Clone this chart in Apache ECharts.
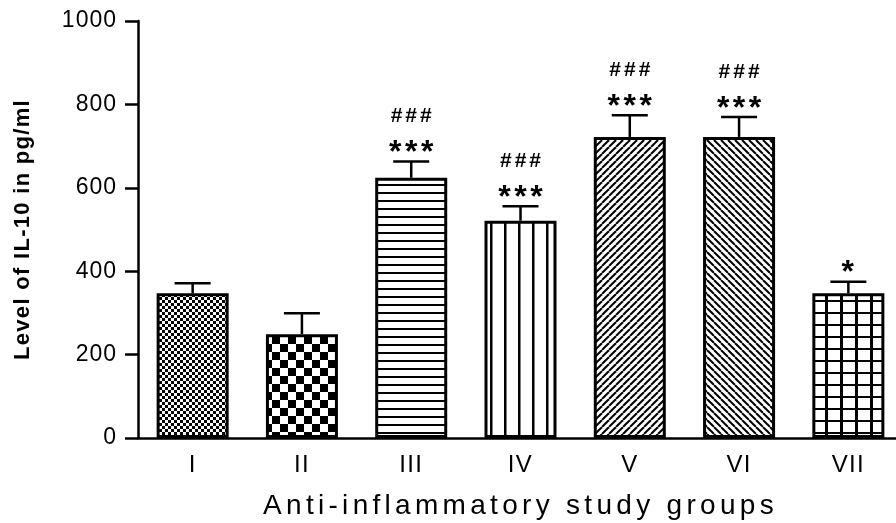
<!DOCTYPE html>
<html>
<head>
<meta charset="UTF-8">
<title>IL-10</title>
<script src="https://cdn.jsdelivr.net/npm/echarts@6/dist/echarts.min.js"></script>
<style>
    html, body { margin: 0; padding: 0; background: #fff; }
    #main { width: 896px; height: 523px; }
</style>
</head>
<body>
<div id="main"></div>
<script>
// data
var groups = ['I', 'II', 'III', 'IV', 'V', 'VI', 'VII'];
var levels = [347, 249, 624, 521, 722, 722, 347];   // bar height (mean)
var errTop = [371, 299, 663, 556, 774, 770, 375];   // top of the error bar
var stars  = ['', '', '***', '***', '***', '***', '*'];
var hashes = ['', '', '###', '###', '###', '###', ''];
var yMin = 0, yMax = 1000, yStep = 200;

var FONT = '"Liberation Sans", Arial, sans-serif';

// the original figure is stretched sideways, so text gets a bit of letter spacing
var spacing = {
    'Anti-inflammatory study groups': '4.3px',
    'Level of IL-10 in pg/ml': '1.3px',
    '***': '3.5px',
    '###': '3px'
};
var origFill = CanvasRenderingContext2D.prototype.fillText;
CanvasRenderingContext2D.prototype.fillText = function (t, x, y) {
    var ls = spacing[t] || (/^\d+$/.test(t) ? '1px' : null);
    if (ls && 'letterSpacing' in this) {
        var old = this.letterSpacing;
        this.letterSpacing = ls;
        origFill.call(this, t, x, y);
        this.letterSpacing = old;
    } else {
        origFill.apply(this, arguments);
    }
};

// black & white hatch patterns
function tile(w, h, draw) {
    var c = document.createElement('canvas');
    c.width = w; c.height = h;
    var ctx = c.getContext('2d');
    ctx.fillStyle = '#fff';
    ctx.fillRect(0, 0, w, h);
    ctx.fillStyle = '#000';
    ctx.strokeStyle = '#000';
    draw(ctx, w, h);
    return { image: c, repeat: 'repeat' };
}
function diag(up) {
    return tile(7, 7, function (ctx, w, h) {
        ctx.lineWidth = 2;
        for (var k = -1; k <= 1; k++) {
            ctx.beginPath();
            if (up) { ctx.moveTo(k * w, h); ctx.lineTo(k * w + w, 0); }
            else { ctx.moveTo(k * w, 0); ctx.lineTo(k * w + w, h); }
            ctx.stroke();
        }
    });
}
var patterns = [
    tile(6, 6, function (ctx) { ctx.fillRect(0, 0, 3, 3); ctx.fillRect(3, 3, 3, 3); }),
    tile(16, 16, function (ctx) { ctx.fillRect(0, 0, 8, 8); ctx.fillRect(8, 8, 8, 8); }),
    tile(4, 8, function (ctx) { ctx.fillRect(0, 0, 4, 2); }),
    tile(14, 4, function (ctx) { ctx.fillRect(0, 0, 2.5, 4); }),
    diag(true),
    diag(false),
    tile(15, 12, function (ctx) { ctx.fillRect(0, 0, 3, 12); ctx.fillRect(0, 0, 15, 2); })
];

var barData = levels.map(function (v, i) {
    return { value: v, itemStyle: { color: patterns[i] } };
});
var errData = groups.map(function (g, i) {
    return [i, levels[i], errTop[i], stars[i], hashes[i]];
});

var chart = echarts.init(document.getElementById('main'), null, { renderer: 'canvas' });

chart.setOption({
    animation: false,
    backgroundColor: '#fff',
    grid: { left: 138, top: 21, width: 765, height: 417, outerBoundsMode: 'none', containLabel: false },
    xAxis: {
        type: 'category',
        data: groups,
        axisLine: { lineStyle: { color: '#000', width: 2.5 } },
        axisTick: { alignWithLabel: true, length: 12, lineStyle: { color: '#000', width: 2.5 } },
        axisLabel: { color: '#000', fontSize: 24, fontFamily: FONT, margin: 15 },
        name: 'Anti-inflammatory study groups',
        nameLocation: 'middle',
        nameGap: 54,
        nameTextStyle: { color: '#000', fontSize: 28, fontFamily: FONT }
    },
    yAxis: {
        type: 'value',
        min: yMin, max: yMax, interval: yStep,
        splitLine: { show: false },
        axisLine: { show: true, lineStyle: { color: '#000', width: 2.5 } },
        axisTick: { show: true, length: 13, lineStyle: { color: '#000', width: 2.5 } },
        axisLabel: {
            color: '#000', fontSize: 23, fontFamily: FONT, margin: 21,
            formatter: function (v) { return String(v); }
        },
        name: 'Level of IL-10 in pg/ml',
        nameLocation: 'middle',
        nameRotate: 90,
        nameGap: 104,
        nameTextStyle: { color: '#000', fontSize: 22, fontWeight: 'bold', fontFamily: FONT }
    },
    series: [
        {
            type: 'bar',
            barWidth: 72,
            data: barData,
            silent: true,
            itemStyle: { borderColor: '#000', borderWidth: 3 }
        },
        {
            type: 'custom',
            data: errData,
            silent: true,
            renderItem: function (params, api) {
                var base = api.coord([api.value(0), api.value(1)]);
                var top = api.coord([api.value(0), api.value(2)]);
                var st = errData[params.dataIndex][3];
                var hs = errData[params.dataIndex][4];
                var line = { stroke: '#000', lineWidth: 2.5 };
                var kids = [
                    { type: 'line', shape: { x1: base[0], y1: base[1], x2: top[0], y2: top[1] }, style: line },
                    { type: 'line', shape: { x1: top[0] - 18, y1: top[1], x2: top[0] + 18, y2: top[1] }, style: line }
                ];
                if (st) {
                    kids.push({
                        type: 'text', x: top[0] + (st.length > 1 ? 1.75 : 0), y: top[1] - 8,
                        style: { text: st, font: 'bold 32px ' + FONT, fill: '#000', align: 'center', verticalAlign: 'middle' }
                    });
                }
                if (hs) {
                    kids.push({
                        type: 'text', x: top[0] + 1.5, y: top[1] - 45,
                        style: { text: hs, font: 'bold 21px ' + FONT, fill: '#000', align: 'center', verticalAlign: 'middle' }
                    });
                }
                return { type: 'group', children: kids };
            }
        }
    ]
});
</script>
</body>
</html>
